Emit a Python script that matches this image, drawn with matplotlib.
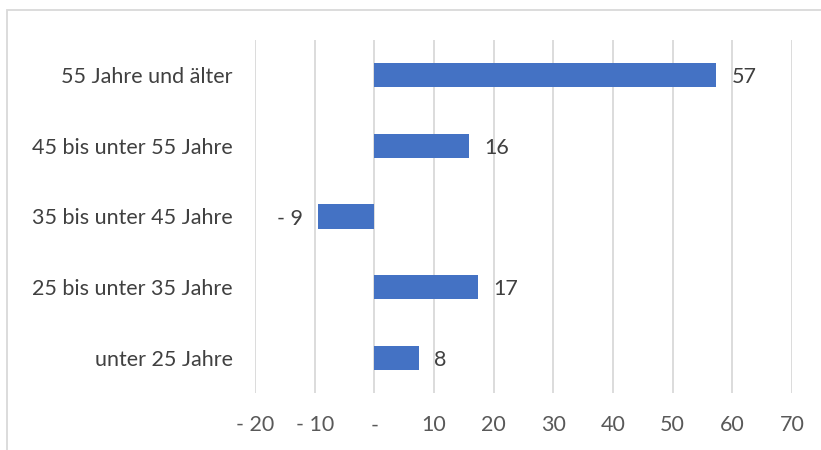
import matplotlib
matplotlib.use('Agg')
import matplotlib.pyplot as plt
from matplotlib.patches import Rectangle

# Altersgruppen (von unten nach oben) und Werte
categories = ['unter 25 Jahre', '25 bis unter 35 Jahre', '35 bis unter 45 Jahre',
              '45 bis unter 55 Jahre', '55 Jahre und älter']
values = [7.5, 17.4, -9.4, 15.8, 57.3]
x_ticks = [-20, -10, 0, 10, 20, 30, 40, 50, 60, 70]
x_tick_labels = ['- 20', '- 10', '-', '10', '20', '30', '40', '50', '60', '70']

bar_color = '#4472C4'
text_color = '#404040'
tick_color = '#595959'
fs = 15.5

plt.rcParams['font.family'] = ['Lato', 'DejaVu Sans']

fig = plt.figure(figsize=(8.21, 4.5), dpi=100)
ax = fig.add_axes([255 / 821, 1 - 393 / 450, (792 - 255) / 821, (393 - 40) / 450])

y = list(range(len(categories)))
ax.barh(y, values, height=0.34, color=bar_color, zorder=3)

for yi, v in zip(y, values):
    label = f'{round(v)}' if v >= 0 else f'- {abs(round(v))}'
    if v >= 0:
        ax.annotate(label, (v, yi), xytext=(11, -1.5), textcoords='offset points',
                    ha='left', va='center', fontsize=fs, color=text_color)
    else:
        ax.annotate(label, (v, yi), xytext=(-11, -1.5), textcoords='offset points',
                    ha='right', va='center', fontsize=fs, color=text_color)

ax.set_xlim(-20, 70)
ax.set_ylim(-0.5, 4.5)
ax.set_xticks(x_ticks)
ax.set_xticklabels(x_tick_labels, fontsize=fs, color=tick_color)
ax.set_yticks(y)
ax.set_yticklabels(categories, fontsize=fs, color=text_color)
ax.tick_params(axis='both', length=0)
ax.tick_params(axis='x', pad=16)
ax.tick_params(axis='y', pad=16)
ax.grid(axis='x', color='#d9d9d9', linewidth=1.3, zorder=0)
for s in ax.spines.values():
    s.set_visible(False)

# Rahmen um das Diagramm
fig.patches.append(Rectangle((7 / 821, -0.1), 1.0, 1 - 10 / 450 + 0.1,
                             transform=fig.transFigure, fill=False,
                             edgecolor='#d9d9d9', linewidth=1.3))

fig.savefig('out.png', dpi=100)
